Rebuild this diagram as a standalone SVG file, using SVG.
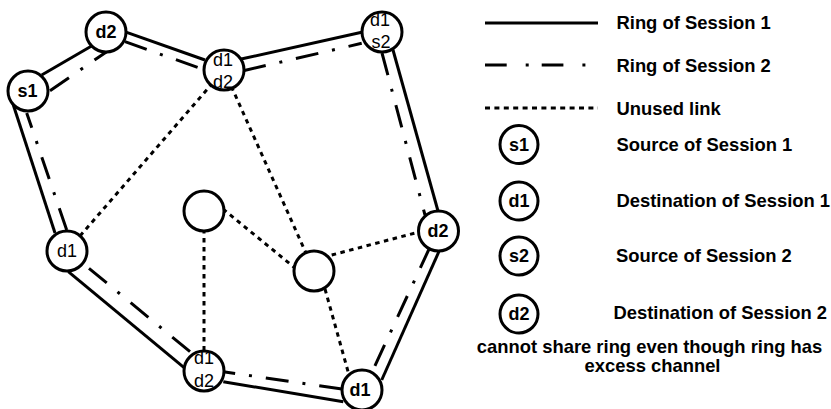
<svg xmlns="http://www.w3.org/2000/svg" width="831" height="409" viewBox="0 0 831 409">
  <style>
    .ring1 { stroke: #000; stroke-width: 3; fill: none; }
    .ring2 { stroke: #000; stroke-width: 3; fill: none; stroke-dasharray: 23 14 3 14; }
    .unused { stroke: #000; stroke-width: 3; fill: none; stroke-dasharray: 4.5 4.5; }
    .node { fill: #fff; stroke: #000; stroke-width: 3; }
    .lbl { font-family: "Liberation Sans", Arial, sans-serif; font-size: 18px; font-weight: bold; fill: #000; text-anchor: middle; }
    .lbl2 { font-family: "Liberation Sans", Arial, sans-serif; font-size: 18px; fill: #000; text-anchor: middle; }
    .legend { font-family: "Liberation Sans", Arial, sans-serif; font-size: 18.4px; font-weight: bold; fill: #000; }
  </style>
  <rect width="831" height="409" fill="#fff"/>

  <!-- connectors -->
  <g id="connectors">
    <!-- ring of session 1 (outer, solid) -->
    <line class="ring1" x1="41.7" y1="75" x2="93.3" y2="45"/>
    <line class="ring1" x1="126.7" y1="32.3" x2="205" y2="60"/>
    <line class="ring1" x1="240" y1="59.3" x2="361.7" y2="32.3"/>
    <line class="ring1" x1="393" y1="50" x2="438" y2="211"/>
    <line class="ring1" x1="439.3" y1="250.7" x2="381.7" y2="380"/>
    <line class="ring1" x1="343.3" y1="401.7" x2="223.3" y2="381.7"/>
    <line class="ring1" x1="185" y1="368.3" x2="68.3" y2="271.7"/>
    <line class="ring1" x1="55" y1="233" x2="11.7" y2="100"/>
    <!-- ring of session 2 (inner, dash-dot) -->
    <line class="ring2" x1="50" y1="90.7" x2="106.7" y2="51.7"/>
    <line class="ring2" x1="125" y1="41.7" x2="205" y2="70"/>
    <line class="ring2" x1="243.3" y1="70.7" x2="361.7" y2="43.3"/>
    <line class="ring2" x1="382" y1="53" x2="425" y2="215"/>
    <line class="ring2" x1="430" y1="247" x2="373" y2="370"/>
    <line class="ring2" x1="342" y1="389" x2="223.3" y2="371.7"/>
    <line class="ring2" x1="190" y1="351.7" x2="85" y2="265"/>
    <line class="ring2" x1="66.7" y1="230" x2="26.7" y2="113"/>
    <!-- unused links -->
    <line class="unused" x1="80" y1="236" x2="211" y2="85"/>
    <line class="unused" x1="224" y1="70" x2="314" y2="271"/>
    <line class="unused" x1="204" y1="211" x2="204" y2="371"/>
    <line class="unused" x1="223" y1="209" x2="295" y2="268"/>
    <line class="unused" x1="331.7" y1="255" x2="420" y2="231.7"/>
    <line class="unused" x1="325" y1="289" x2="349" y2="375"/>
  </g>

  <!-- nodes -->
  <g id="node-s1">
    <circle class="node" cx="28" cy="91" r="20"/>
    <text class="lbl" x="27.5" y="97">s1</text>
  </g>
  <g id="node-d2-top">
    <circle class="node" cx="106" cy="32" r="20"/>
    <text class="lbl" x="106" y="38">d2</text>
  </g>
  <g id="node-d1d2-top">
    <circle class="node" cx="224" cy="70" r="20"/>
    <text class="lbl2" x="223" y="66">d1</text>
    <text class="lbl2" x="223" y="88">d2</text>
  </g>
  <g id="node-d1s2">
    <circle class="node" cx="382" cy="32" r="20"/>
    <text class="lbl2" x="380" y="26">d1</text>
    <text class="lbl2" x="381" y="48">s2</text>
  </g>
  <g id="node-d1-left">
    <circle class="node" cx="67" cy="251" r="20"/>
    <text class="lbl2" x="67" y="257">d1</text>
  </g>
  <g id="node-empty-left">
    <circle class="node" cx="204" cy="211" r="20"/>
  </g>
  <g id="node-d1d2-bottom">
    <circle class="node" cx="204" cy="371" r="20"/>
    <text class="lbl2" x="204" y="364">d1</text>
    <text class="lbl2" x="204" y="387">d2</text>
  </g>
  <g id="node-empty-mid">
    <circle class="node" cx="314" cy="271" r="20"/>
  </g>
  <g id="node-d2-right">
    <circle class="node" cx="438.5" cy="231" r="20"/>
    <text class="lbl" x="438" y="237">d2</text>
  </g>
  <g id="node-d1-bottom">
    <circle class="node" cx="362" cy="390" r="20"/>
    <text class="lbl" x="360" y="396">d1</text>
  </g>

  <!-- legend -->
  <g id="legend">
    <line class="ring1" x1="485" y1="23" x2="598" y2="23"/>
    <text class="legend" x="616.5" y="29">Ring of Session 1</text>
    <line class="ring2" x1="485" y1="65" x2="586" y2="65" style="stroke-dasharray: 21.7 19 3 13"/>
    <text class="legend" x="616.5" y="72">Ring of Session 2</text>
    <line class="unused" x1="485" y1="108" x2="598" y2="108" style="stroke-dasharray: 5 4.4"/>
    <text class="legend" x="616.5" y="115">Unused link</text>

    <circle class="node" cx="519" cy="144.5" r="19"/>
    <text class="lbl" x="519" y="150.5">s1</text>
    <text class="legend" x="616.5" y="151">Source of Session 1</text>

    <circle class="node" cx="519" cy="201" r="19"/>
    <text class="lbl" x="519" y="207">d1</text>
    <text class="legend" x="616.5" y="207">Destination of Session 1</text>

    <circle class="node" cx="519" cy="256" r="19"/>
    <text class="lbl" x="519" y="262">s2</text>
    <text class="legend" x="616" y="262">Source of Session 2</text>

    <circle class="node" cx="519" cy="314" r="19"/>
    <text class="lbl" x="519" y="320">d2</text>
    <text class="legend" x="613.5" y="319">Destination of Session 2</text>

    <text class="legend" x="649.5" y="353" text-anchor="middle">cannot share ring even though ring has</text>
    <text class="legend" x="652.5" y="372" text-anchor="middle">excess channel</text>
  </g>
</svg>
